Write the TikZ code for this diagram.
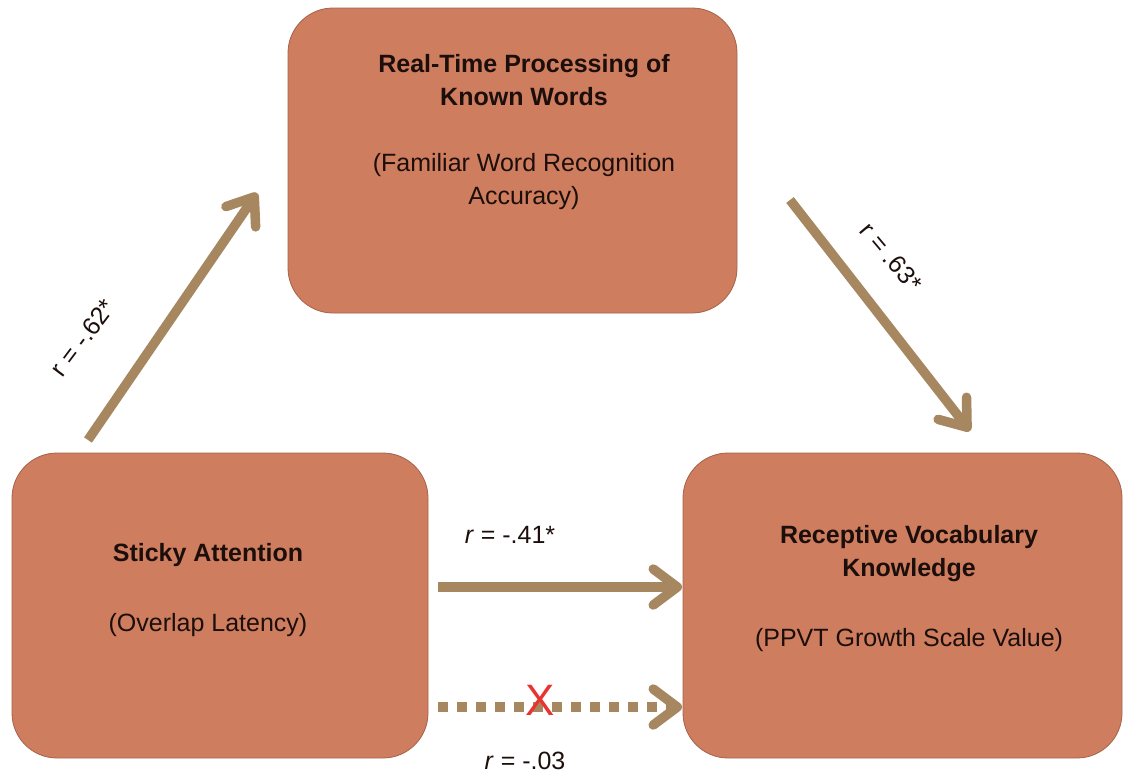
\documentclass[tikz,border=0pt]{standalone}
\usepackage{fontspec}
\setmainfont{Liberation Sans}
\usetikzlibrary{arrows.meta}

\definecolor{boxfill}{RGB}{206,125,95}
\definecolor{boxline}{RGB}{165,98,74}
\definecolor{linkcol}{RGB}{166,135,95}
\definecolor{inkcol}{RGB}{28,14,10}
\definecolor{crosscol}{RGB}{232,52,48}

\tikzset{
  stagebox/.style={draw=boxline, line width=0.8pt, fill=boxfill,
    rounded corners=45pt, inner sep=0pt},
  boxtext/.style={align=center, text=inkcol, inner sep=0pt,
    font=\fontsize{25}{33}\selectfont},
  linktext/.style={text=inkcol, inner sep=0pt,
    font=\fontsize{25}{28}\selectfont},
  link/.style={draw=linkcol, line width=9.5pt,
    -{Straight Barb[length=24pt,width=36pt,round]}},
  nulllink/.style={link, dash pattern=on 10pt off 9pt, line cap=butt},
}

\begin{document}
\begin{tikzpicture}[x=1pt, y=-1pt]
  \useasboundingbox (0,0) rectangle (1124,774);

  % the three boxes
  \node[stagebox, minimum width=449pt, minimum height=305pt] (rtp) at (512.5,160.5) {};
  \node[stagebox, minimum width=416pt, minimum height=305pt] (sticky) at (220,605.5) {};
  \node[stagebox, minimum width=439pt, minimum height=305pt] (vocab) at (902.5,605.5) {};

  % box captions
  \node[boxtext] (rtptext) at (524,132) {\textbf{Real-Time Processing of}\\\textbf{Known Words}\\[33pt](Familiar Word Recognition\\Accuracy)};
  \node[boxtext] (stickytext) at (208,590) {\textbf{Sticky Attention}\\[37pt](Overlap Latency)};
  \node[boxtext] (vocabtext) at (909,589) {\textbf{Receptive Vocabulary}\\\textbf{Knowledge}\\[37pt](PPVT Growth Scale Value)};

  % connector end points
  \coordinate (a1s) at (88,440);
  \coordinate (a1e) at (257,193);
  \coordinate (a2s) at (790,200);
  \coordinate (a2e) at (970,431);
  \coordinate (a3s) at (438,587);
  \coordinate (a3e) at (682,587);
  \coordinate (a4s) at (438,707);
  \coordinate (a4e) at (682,707);

  % paths between the measures
  \draw[link] (a1s) -- (a1e);
  \draw[link] (a2s) -- (a2e);
  \draw[link] (a3s) -- (a3e);
  \draw[nulllink] (a4s) -- (a4e);

  % correlations
  \node[linktext, rotate=53] (r1) at (83,338) {r = -.62*};
  \node[linktext, rotate=-50] (r2) at (891,257) {r = .63*};
  \node[linktext] (r3) at (510,535) {\textit{r} = -.41*};
  \node[linktext] (r4) at (525,761) {\textit{r} = -.03};

  % the non-significant direct path is crossed out
  \node[text=crosscol, inner sep=0pt, font=\fontsize{44}{48}\selectfont] (cross) at (540,700) {X};
\end{tikzpicture}
\end{document}
